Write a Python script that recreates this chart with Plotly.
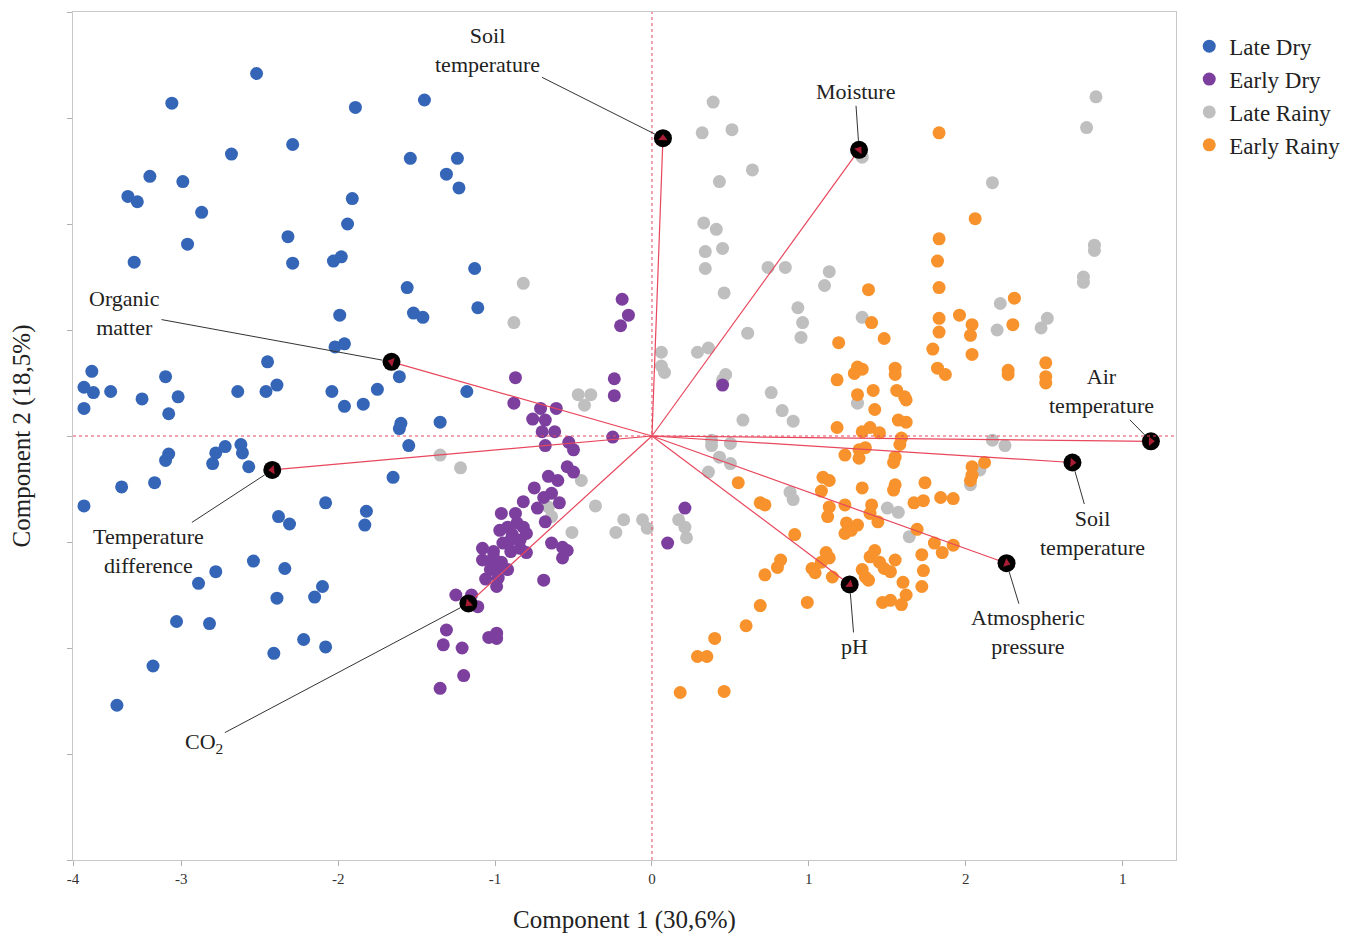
import plotly.graph_objects as go

# PCA scores (component 1, component 2)
late_dry_x = [-2.52, -3.06, -1.89, -1.45, -2.29, -2.68, -1.54, -1.24, -1.31, -1.23,
              -3.20, -2.99, -3.34, -3.28, -2.87, -1.91, -1.94, -2.32, -2.96, -3.30,
              -2.29, -2.03, -1.98, -1.13, -1.56, -1.52, -1.46, -1.99, -1.11, -2.02,
              -1.96, -2.45, -3.57, -3.10, -1.61, -3.62, -3.56, -3.45, -3.62, -3.25,
              -3.02, -3.08, -2.64, -2.46, -2.39, -2.04, -1.96, -1.84, -1.75, -1.18,
              -1.35, -1.60, -1.61, -1.55, -3.08, -3.10, -2.78, -2.72, -2.62, -2.61,
              -2.80, -2.57, -3.38, -3.17, -3.62, -1.65, -2.08, -1.82, -1.83, -2.38,
              -2.31, -2.54, -2.34, -2.78, -2.89, -2.39, -2.15, -2.10, -3.03, -2.82,
              -2.22, -2.08, -2.41, -3.18, -3.41]
late_dry_y = [3.42, 3.14, 3.10, 3.17, 2.75, 2.66, 2.62, 2.62, 2.47, 2.34,
              2.45, 2.40, 2.26, 2.21, 2.11, 2.24, 2.00, 1.88, 1.81, 1.64,
              1.63, 1.65, 1.69, 1.58, 1.40, 1.16, 1.12, 1.14, 1.21, 0.84,
              0.87, 0.70, 0.61, 0.56, 0.56, 0.46, 0.41, 0.42, 0.26, 0.35,
              0.37, 0.21, 0.42, 0.42, 0.48, 0.42, 0.28, 0.30, 0.44, 0.42,
              0.13, 0.12, 0.07, -0.09, -0.17, -0.23, -0.16, -0.10, -0.08, -0.16,
              -0.26, -0.29, -0.48, -0.44, -0.66, -0.39, -0.63, -0.71, -0.84, -0.76,
              -0.83, -1.18, -1.25, -1.28, -1.39, -1.53, -1.52, -1.42, -1.75, -1.77,
              -1.92, -1.99, -2.05, -2.17, -2.54]

early_dry_x = [-0.19, -0.15, -0.20, -0.87, -0.88, -0.24, -0.24, 0.45, -0.71, -0.61,
               -0.76, -0.68, -0.70, -0.62, -0.25, -0.68, -0.53, -0.50, -0.54, -0.50,
               -0.66, -0.60, -0.75, -0.64, -0.82, -0.73, -0.69, -0.59, -0.68, -0.96,
               -0.87, -0.97, -0.92, -0.89, -0.82, -0.80, -1.08, -1.01, -0.95, -0.90,
               -0.84, -0.80, -1.08, -1.02, -0.96, -0.92, -0.99, -0.64, -0.57, -0.54,
               -0.57, -1.06, -0.98, -0.99, -0.69, -1.25, -1.15, -1.11, -1.31, -1.33,
               -1.21, -1.04, -0.99, -0.99, -1.20, -1.35, 0.21, 0.10,
               -0.90, -0.86, -1.01, -0.84, -1.03]
early_dry_y = [1.29, 1.14, 1.04, 0.55, 0.31, 0.54, 0.38, 0.48, 0.26, 0.26,
               0.16, 0.15, 0.04, 0.04, -0.01, -0.09, -0.06, -0.13, -0.29, -0.34,
               -0.38, -0.42, -0.49, -0.54, -0.62, -0.68, -0.58, -0.63, -0.81, -0.73,
               -0.73, -0.89, -0.86, -0.93, -0.86, -0.92, -1.06, -1.09, -1.01, -1.09,
               -1.06, -1.10, -1.17, -1.20, -1.19, -1.26, -1.25, -1.01, -1.05, -1.08,
               -1.15, -1.35, -1.34, -1.42, -1.36, -1.50, -1.50, -1.61, -1.83, -1.97,
               -2.00, -1.90, -1.86, -1.91, -2.26, -2.38, -0.68, -1.01,
               -0.98, -0.82, -1.14, -0.98, -1.26]

late_rainy_x = [0.39, 0.32, 0.51, 0.64, 0.43, 0.33, 0.41, 0.34, 0.45, 0.34,
                0.74, 0.85, 0.46, 0.93, 0.96, 0.95, 0.61, 0.29, 0.36, 0.06,
                0.06, 0.08, 0.47, -0.82, -0.88, -0.47, -0.39, -0.43, 0.76, 0.83,
                0.90, 0.58, -1.35, -1.22, -0.45, -0.66, -0.64, -0.36, -0.51, -0.18,
                -0.23, -0.06, -0.03, 0.38, 0.50, 0.38, 0.43, 0.50, 0.36, 0.17,
                0.21, 0.22, 0.45, 2.83, 2.77, 2.17, 2.82, 2.82, 2.75, 2.75,
                1.34, 1.13, 1.10, 1.34, 2.22, 2.20, 2.52, 2.48, 1.31, 0.88,
                0.90, 1.50, 1.57, 1.64, 2.17, 2.25, 2.03, 2.09]
late_rainy_y = [3.15, 2.86, 2.89, 2.51, 2.40, 2.01, 1.95, 1.74, 1.77, 1.58,
                1.59, 1.59, 1.35, 1.21, 1.07, 0.93, 0.97, 0.79, 0.83, 0.79,
                0.66, 0.60, 0.58, 1.44, 1.07, 0.39, 0.39, 0.29, 0.41, 0.24,
                0.14, 0.15, -0.18, -0.30, -0.42, -0.67, -0.76, -0.66, -0.91, -0.79,
                -0.91, -0.79, -0.87, -0.04, -0.07, -0.09, -0.20, -0.26, -0.34, -0.79,
                -0.86, -0.96, 0.53, 3.20, 2.91, 2.39, 1.80, 1.75, 1.50, 1.45,
                2.63, 1.55, 1.42, 1.12, 1.25, 1.00, 1.11, 1.02, 0.31, -0.53,
                -0.60, -0.68, -0.72, -0.95, -0.04, -0.09, -0.46, -0.32]

early_rainy_x = [1.83, 2.06, 1.83, 1.82, 1.83, 1.38, 1.83, 1.83, 1.96, 2.04,
                 2.03, 2.31, 2.30, 1.40, 1.48, 1.19, 1.79, 2.04, 1.31, 1.34,
                 1.29, 1.55, 1.55, 1.82, 1.87, 2.27, 2.27, 2.51, 2.51, 2.51,
                 1.18, 1.31, 1.41, 1.56, 1.61, 1.62, 1.42, 1.57, 1.62, 1.18,
                 1.34, 1.39, 1.45, 1.59, 1.58, 1.32, 1.36, 1.23, 1.32, 1.55,
                 1.54, 2.12, 2.04, 2.04, 2.03, 0.55, 1.09, 1.13, 1.08, 1.34,
                 1.55, 1.54, 1.74, 0.69, 0.72, 1.13, 1.12, 1.23, 1.40, 1.39,
                 1.44, 1.67, 1.73, 1.84, 1.92, 1.24, 1.31, 1.23, 1.27, 1.69,
                 0.91, 1.80, 1.85, 1.92, 1.11, 1.13, 1.08, 0.82, 0.80, 0.72,
                 1.42, 1.39, 1.45, 1.48, 1.52, 1.55, 1.72, 1.73, 1.02, 1.04,
                 1.15, 1.34, 1.36, 1.38, 1.60, 1.72, 1.62, 1.59, 1.52, 1.47,
                 0.99, 0.69, 0.60, 0.40, 0.29, 0.35, 0.18, 0.46]
early_rainy_y = [2.86, 2.05, 1.86, 1.65, 1.40, 1.38, 1.11, 0.98, 1.14, 1.05,
                 0.95, 1.30, 1.05, 1.07, 0.92, 0.88, 0.82, 0.77, 0.65, 0.63,
                 0.59, 0.64, 0.58, 0.64, 0.58, 0.62, 0.58, 0.69, 0.56, 0.50,
                 0.53, 0.39, 0.43, 0.43, 0.37, 0.34, 0.25, 0.15, 0.13, 0.08,
                 0.04, 0.08, 0.03, -0.02, -0.08, -0.13, -0.11, -0.18, -0.21, -0.20,
                 -0.25, -0.25, -0.29, -0.37, -0.42, -0.44, -0.39, -0.42, -0.52, -0.49,
                 -0.46, -0.51, -0.44, -0.63, -0.65, -0.67, -0.76, -0.65, -0.65, -0.73,
                 -0.81, -0.63, -0.61, -0.58, -0.59, -0.82, -0.84, -0.92, -0.89, -0.88,
                 -0.93, -1.01, -1.10, -1.03, -1.10, -1.15, -1.19, -1.17, -1.24, -1.31,
                 -1.08, -1.14, -1.19, -1.25, -1.28, -1.17, -1.12, -1.27, -1.25, -1.29,
                 -1.33, -1.26, -1.33, -1.36, -1.38, -1.42, -1.50, -1.59, -1.55, -1.57,
                 -1.57, -1.60, -1.79, -1.91, -2.08, -2.08, -2.42, -2.41]

# loading vectors
var_names = ["Soil<br>temperature", "Moisture", "Organic<br>matter",
             "Temperature<br>difference", "CO<sub>2</sub>", "pH",
             "Atmospheric<br>pressure", "Soil<br>temperature", "Air<br>temperature"]
load_x = [0.07, 1.32, -1.66, -2.42, -1.17, 1.26, 2.26, 2.68, 3.18]
load_y = [2.81, 2.70, 0.70, -0.32, -1.58, -1.40, -1.20, -0.25, -0.05]
# label offsets in pixels from the vector tip
label_dx = [-175, -4, -267, -124, -264, 5, 21, 20, -49]
label_dy = [-88, -58, -49, 81, 140, 62, 69, 70, -50]

# axis ticks as printed in the figure
x_tickvals = [-3.69, -3, -2, -1, 0, 1, 2, 3]
x_ticktext = ["-4", "-3", "-2", "-1", "0", "1", "2", "1"]

serif = "Liberation Serif, Times New Roman, serif"
red = "#e8475c"

fig = go.Figure()

# draw order: grey, orange, blue, purple (legend order set with legendrank)
groups = [
    ("Late Rainy", late_rainy_x, late_rainy_y, "#bfbfbf", 3),
    ("Early Rainy", early_rainy_x, early_rainy_y, "#f7922c", 4),
    ("Late Dry", late_dry_x, late_dry_y, "#3565b7", 1),
    ("Early Dry", early_dry_x, early_dry_y, "#7c3f9e", 2),
]
for name, xs, ys, col, rank in groups:
    fig.add_trace(go.Scatter(x=xs, y=ys, mode="markers", name=name,
                             legendrank=rank,
                             marker=dict(size=13, color=col)))

# vector lines
for vx, vy in zip(load_x, load_y):
    fig.add_trace(go.Scatter(x=[0, vx], y=[0, vy], mode="lines",
                             line=dict(color=red, width=1.2),
                             showlegend=False, hoverinfo="skip"))

# black tips
fig.add_trace(go.Scatter(x=load_x, y=load_y, mode="markers", showlegend=False,
                         marker=dict(size=18, color="black"), hoverinfo="skip"))

# small red arrowheads inside the tips
for vx, vy in zip(load_x, load_y):
    fig.add_trace(go.Scatter(x=[0, vx], y=[0, vy], mode="markers",
                             marker=dict(symbol="triangle-up", size=[0, 8],
                                         color="#f0284a", angleref="previous",
                                         line=dict(width=0)),
                             showlegend=False, hoverinfo="skip"))

for name, vx, vy, dx, dy in zip(var_names, load_x, load_y, label_dx, label_dy):
    fig.add_annotation(x=vx, y=vy, ax=dx, ay=dy, text=name,
                       showarrow=True, arrowhead=0, arrowwidth=1,
                       arrowcolor="#333333", standoff=9,
                       font=dict(family=serif, size=22, color="#222222"))

fig.add_hline(y=0, line=dict(color=red, width=1, dash="dot"))
fig.add_vline(x=0, line=dict(color=red, width=1, dash="dot"))

# page body adds 8px, so the figure is trimmed to keep the plot box in place
fig.update_layout(
    width=1363, height=934,
    margin=dict(l=65, r=195, t=4, b=82),
    plot_bgcolor="white", paper_bgcolor="white",
    font=dict(family=serif, color="#222222"),
    legend=dict(x=1.012, y=0.985, xanchor="left", yanchor="top",
                font=dict(family=serif, size=23), itemsizing="trace",
                tracegroupgap=2),
)
fig.update_xaxes(range=[-3.69, 3.34], tickvals=x_tickvals, ticktext=x_ticktext,
                 showgrid=False, zeroline=False, showline=True, mirror=True,
                 linecolor="#c8c8c8", ticks="outside", tickcolor="#b0b0b0",
                 ticklen=5, tickfont=dict(family=serif, size=15, color="#333333"),
                 title=dict(text="Component 1 (30,6%)", standoff=24,
                            font=dict(family=serif, size=25)))
fig.update_yaxes(range=[-4, 4], dtick=1, showticklabels=False,
                 showgrid=False, zeroline=False, showline=True, mirror=True,
                 linecolor="#c8c8c8", ticks="outside", tickcolor="#b0b0b0",
                 ticklen=5,
                 title=dict(text="Component 2 (18,5%)", standoff=30,
                            font=dict(family=serif, size=25)))

fig.write_html("out.html")
